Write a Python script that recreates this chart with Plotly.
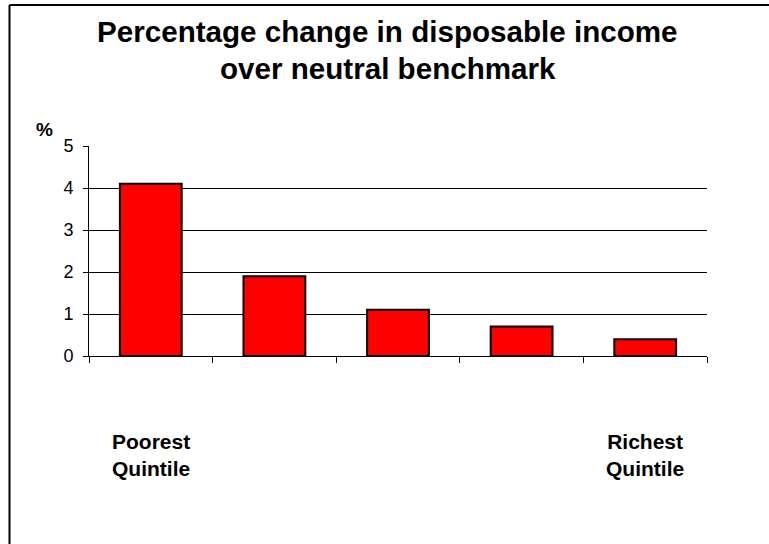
import plotly.graph_objects as go

categories = [1, 2, 3, 4, 5]
values = [4.1, 1.9, 1.1, 0.7, 0.4]
cat_labels = ["Poorest<br>Quintile", "", "", "", "Richest<br>Quintile"]
y_ticks = [0, 1, 2, 3, 4, 5]
title_lines = ["Percentage change in disposable income", "over neutral benchmark"]

FONT = "Arial, Liberation Sans, sans-serif"
W, H = 769, 544
L, R, T, B = 89, 62, 146, 188
pw = W - L - R
ph = H - T - B


def px_x(x):
    return (x - L) / pw


def px_y(y):
    return (H - B - y) / ph


fig = go.Figure()
fig.add_trace(go.Bar(
    x=categories, y=values,
    marker=dict(color="#ff0000", line=dict(color="black", width=2)),
    width=0.5,
))

for c, lab in zip(categories, cat_labels):
    if lab:
        fig.add_annotation(x=c, xref="x", y=px_y(455), yref="paper", yanchor="middle",
                           xanchor="center", text="<b>" + lab + "</b>", showarrow=False,
                           font=dict(family=FONT, size=21, color="black"), align="center")

for line, yc in zip(title_lines, [32, 68]):
    fig.add_annotation(x=px_x(387.5), xref="paper", y=px_y(yc), yref="paper", yanchor="middle",
                       xanchor="center", text="<b>" + line + "</b>", showarrow=False,
                       font=dict(family=FONT, size=29.6, color="black"))

fig.add_annotation(x=px_x(44.5), xref="paper", y=px_y(129), yref="paper", yanchor="middle",
                   xanchor="center", text="<b>%</b>", showarrow=False,
                   font=dict(family=FONT, size=19, color="black"))

bx = px_x(9.5)
by = px_y(5)
fig.add_shape(type="line", xref="paper", yref="paper", x0=bx, x1=bx, y0=by, y1=-3,
              line=dict(color="black", width=2))
fig.add_shape(type="line", xref="paper", yref="paper", x0=bx, x1=3, y0=by, y1=by,
              line=dict(color="black", width=2))

fig.update_layout(
    width=W, height=H,
    margin=dict(l=L, r=R, t=T, b=B),
    paper_bgcolor="white", plot_bgcolor="white",
    showlegend=False,
    xaxis=dict(range=[0.5, 5.5], tickvals=[0.5, 1.5, 2.5, 3.5, 4.5, 5.5], ticktext=[""] * 6,
               ticks="outside", ticklen=6, tickcolor="black", tickwidth=1,
               showline=True, linecolor="black", linewidth=1, showgrid=False, zeroline=False,
               fixedrange=True),
    yaxis=dict(range=[0, 5], tickvals=y_ticks, ticks="outside", ticklen=5, tickcolor="black",
               showline=True, linecolor="black", linewidth=1, showgrid=True, gridcolor="black",
               gridwidth=1, zeroline=False, tickfont=dict(family=FONT, size=18, color="black"),
               ticklabelstandoff=6, fixedrange=True),
)

fig.write_html("out.html")
